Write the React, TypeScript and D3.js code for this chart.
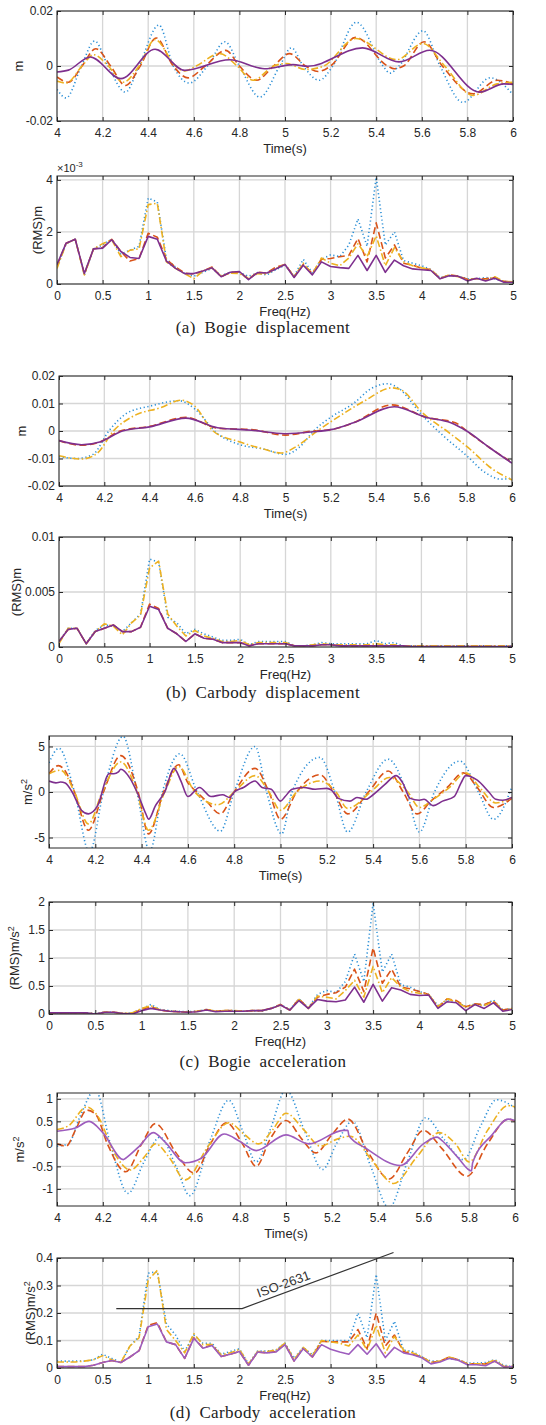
import React, { useEffect, useRef } from 'react';
import * as d3 from 'd3';

// shared axes
const FREQ = [0, 0.1, 0.2, 0.3, 0.4, 0.5, 0.6, 0.7, 0.8, 0.9, 1, 1.1, 1.2, 1.3, 1.4, 1.5, 1.6, 1.7, 1.8, 1.9, 2,
  2.1, 2.2, 2.3, 2.4, 2.5, 2.6, 2.7, 2.8, 2.9, 3, 3.1, 3.2, 3.3, 3.4, 3.5, 3.6, 3.7, 3.8, 3.9, 4,
  4.1, 4.2, 4.3, 4.4, 4.5, 4.6, 4.7, 4.8, 4.9, 5];
const TIME_TICKS = [4, 4.2, 4.4, 4.6, 4.8, 5, 5.2, 5.4, 5.6, 5.8, 6];
const FREQ_TICKS = [0, 0.5, 1, 1.5, 2, 2.5, 3, 3.5, 4, 4.5, 5];

// (a) bogie displacement, time [t, m]
const bogieDispBlue = [[4, -0.0085], [4.04, -0.0116], [4.107, 0], [4.165, 0.0091], [4.224, 0], [4.3, -0.0095], [4.36, 0], [4.447, 0.0149], [4.51, 0], [4.58, -0.0062], [4.66, 0], [4.737, 0.0088], [4.8, 0], [4.89, -0.0113], [4.977, 0], [5.028, 0.0066], [5.08, 0], [5.15, -0.0052], [5.21, 0], [5.313, 0.0159], [5.43, 0], [5.46, -0.0026], [5.5, 0], [5.605, 0.0128], [5.68, 0], [5.78, -0.0132], [5.9, -0.0043], [6, -0.0104]];
const bogieDispOrange = [[4, -0.004], [4.05, -0.0059], [4.11, 0], [4.17, 0.0063], [4.235, 0], [4.3, -0.0071], [4.365, 0], [4.435, 0.0102], [4.51, 0], [4.575, -0.0043], [4.65, 0], [4.74, 0.0057], [4.8, 0], [4.875, -0.0052], [4.95, 0], [5.02, 0.0045], [5.09, 0], [5.145, -0.002], [5.2, 0], [5.31, 0.0104], [5.45, 0], [5.48, -0.001], [5.52, 0], [5.61, 0.0088], [5.69, 0], [5.825, -0.0101], [5.93, -0.0052], [6, -0.0065]];
const bogieDispYellow = [[4, -0.0055], [4.04, -0.0062], [4.11, 0], [4.16, 0.0041], [4.225, 0], [4.29, -0.0059], [4.36, 0], [4.43, 0.0096], [4.52, 0], [4.56, -0.0018], [4.61, 0], [4.715, 0.0045], [4.79, 0], [4.86, -0.0052], [4.95, 0], [5.005, 0.0009], [5.09, -0.0013], [5.17, 0], [5.31, 0.01], [5.49, 0.0023], [5.605, 0.0082], [5.7, 0], [5.825, -0.0107], [5.93, -0.0065], [6, -0.0059]];
const bogieDispPurple = [[4, -0.0022], [4.05, -0.0015], [4.146, 0.0033], [4.28, -0.0046], [4.43, 0.0061], [4.56, -0.0016], [4.757, 0.0023], [4.91, -0.001], [5.035, 0.0005], [5.1, -0.0001], [5.34, 0.0066], [5.5, 0.0015], [5.635, 0.0057], [5.854, -0.0095], [5.96, -0.0065], [6, -0.0067]];

// (a) bogie displacement RMS (x1e-3 m)
const bogieRmsBlue = [0.65, 1.55, 1.72, 0.35, 1.35, 1.5, 1.72, 1.15, 1.3, 1.45, 3.3, 3.15, 0.95, 0.65, 0.4, 0.3, 0.45, 0.6, 0.32, 0.45, 0.45, 0.3, 0.42, 0.35, 0.55, 0.72, 0.3, 0.95, 0.42, 0.95, 1.12, 1.05, 1.5, 2.5, 1.45, 4.1, 1.5, 2.0, 0.9, 0.8, 0.7, 0.55, 0.25, 0.32, 0.3, 0.2, 0.2, 0.25, 0.2, 0.1, 0.08];
const bogieRmsOrange = [0.7, 1.57, 1.72, 0.38, 1.35, 1.4, 1.72, 1.25, 0.88, 0.98, 1.95, 1.8, 0.95, 0.65, 0.42, 0.38, 0.5, 0.65, 0.28, 0.45, 0.45, 0.2, 0.45, 0.42, 0.65, 0.75, 0.28, 0.75, 0.4, 0.95, 0.98, 1.05, 1.1, 1.75, 0.85, 2.35, 1.0, 1.5, 0.8, 0.72, 0.6, 0.55, 0.22, 0.35, 0.3, 0.18, 0.2, 0.2, 0.25, 0.1, 0.08];
const bogieRmsYellow = [0.6, 1.55, 1.72, 0.35, 1.35, 1.55, 1.7, 1.05, 1.3, 1.35, 3.05, 3.1, 0.85, 0.6, 0.4, 0.2, 0.5, 0.62, 0.3, 0.42, 0.4, 0.2, 0.4, 0.38, 0.6, 0.75, 0.28, 0.8, 0.38, 1.0, 0.8, 0.7, 1.0, 1.55, 1.05, 1.85, 0.7, 1.4, 0.85, 0.7, 0.62, 0.55, 0.2, 0.35, 0.28, 0.15, 0.22, 0.15, 0.28, 0.1, 0.08];
const bogieRmsPurple = [0.75, 1.57, 1.72, 0.4, 1.35, 1.38, 1.7, 1.25, 1.02, 0.98, 1.83, 1.72, 0.88, 0.6, 0.4, 0.4, 0.5, 0.62, 0.28, 0.45, 0.48, 0.17, 0.44, 0.42, 0.58, 0.75, 0.25, 0.72, 0.35, 0.85, 0.67, 0.63, 0.6, 1.1, 0.52, 1.1, 0.45, 0.92, 0.7, 0.58, 0.55, 0.52, 0.2, 0.32, 0.3, 0.12, 0.22, 0.12, 0.22, 0.07, 0.07];

// (b) carbody displacement, time [t, m]
const carDispBlue = [[4, -0.0093], [4.08, -0.01], [4.15, -0.0085], [4.22, 0], [4.3, 0.0065], [4.4, 0.009], [4.53, 0.011], [4.6, 0.008], [4.7, -0.001], [4.8, -0.005], [4.9, -0.0065], [5, -0.0085], [5.06, -0.006], [5.13, 0.0005], [5.2, 0.005], [5.3, 0.01], [5.38, 0.0155], [5.45, 0.0172], [5.5, 0.0155], [5.6, 0.006], [5.7, -0.002], [5.8, -0.009], [5.88, -0.015], [5.95, -0.0175], [6, -0.0172]];
const carDispOrange = [[4, -0.0035], [4.1, -0.0052], [4.18, -0.004], [4.27, 0], [4.4, 0.0017], [4.56, 0.005], [4.7, 0.001], [4.85, 0.0005], [5, -0.0015], [5.12, 0], [5.2, 0.0005], [5.3, 0.003], [5.47, 0.0095], [5.62, 0.005], [5.75, 0.003], [5.8, 0], [5.9, -0.006], [6, -0.0115]];
const carDispYellow = [[4, -0.009], [4.1, -0.0102], [4.17, -0.008], [4.24, 0], [4.33, 0.0055], [4.45, 0.0085], [4.54, 0.0112], [4.6, 0.009], [4.68, 0], [4.8, -0.004], [4.9, -0.0065], [4.98, -0.008], [5.05, -0.0055], [5.14, 0], [5.24, 0.0055], [5.35, 0.011], [5.47, 0.0157], [5.52, 0.0145], [5.6, 0.007], [5.72, -0.0005], [5.82, -0.007], [5.9, -0.013], [6, -0.0178]];
const carDispPurple = [[4, -0.0035], [4.1, -0.005], [4.18, -0.004], [4.28, 0], [4.4, 0.0015], [4.56, 0.0047], [4.7, 0.0012], [4.85, 0.0003], [5, -0.001], [5.12, -0.0003], [5.2, 0.0005], [5.3, 0.003], [5.48, 0.0088], [5.62, 0.005], [5.73, 0.003], [5.8, 0], [5.9, -0.006], [6, -0.0117]];

// (b) carbody displacement RMS (m)
const carRmsBlue = [0.0005, 0.0017, 0.0017, 0.0003, 0.0015, 0.002, 0.0019, 0.0014, 0.0022, 0.003, 0.008, 0.0077, 0.0027, 0.0022, 0.0012, 0.0016, 0.0012, 0.0009, 0.0006, 0.0006, 0.0007, 0.0002, 0.0005, 0.0005, 0.0005, 0.0005, 0.0001, 0.0001, 0.0002, 0.0004, 0.0003, 0.0003, 0.0003, 0.0003, 0.0003, 0.0006, 0.0003, 0.0004, 0.0001, 0.0001, 0.0001, 0.0001, 0.0001, 0.0001, 0.0001, 0.0001, 0.0001, 0.0001, 0.0001, 0.0001, 0.0001];
const carRmsOrange = [0.0005, 0.0016, 0.0017, 0.0003, 0.0014, 0.0017, 0.002, 0.0014, 0.0014, 0.0018, 0.0039, 0.0035, 0.0017, 0.0012, 0.0005, 0.0012, 0.0008, 0.0007, 0.0004, 0.0004, 0.0004, 0.0001, 0.0003, 0.0003, 0.0003, 0.0003, 0.0001, 0.0001, 0.0001, 0.0002, 0.0002, 0.0001, 0.0001, 0.0001, 0.0001, 0.0001, 0.0001, 0.0001, 0.0001, 0.00005, 0.00005, 0.00005, 0.00005, 0.00005, 0.00005, 0.00005, 0.00005, 0.00005, 0.00005, 0.00005, 0.00005];
const carRmsYellow = [0.0003, 0.0017, 0.0017, 0.0003, 0.0014, 0.0021, 0.0019, 0.0011, 0.0022, 0.0029, 0.0072, 0.0078, 0.003, 0.0019, 0.001, 0.0015, 0.001, 0.0008, 0.0005, 0.0005, 0.0006, 0.0002, 0.0004, 0.0004, 0.0004, 0.0004, 0.0001, 0.0001, 0.0002, 0.0003, 0.0002, 0.0002, 0.0002, 0.0002, 0.0002, 0.0003, 0.0002, 0.0002, 0.0001, 0.0001, 0.0001, 0.0001, 0.0001, 0.0001, 0.0001, 0.0001, 0.0001, 0.0001, 0.0001, 0.0001, 0.0001];
const carRmsPurple = [0.0005, 0.0016, 0.0017, 0.0003, 0.0014, 0.0017, 0.002, 0.0014, 0.0014, 0.0018, 0.0037, 0.0034, 0.0017, 0.0012, 0.0005, 0.0012, 0.0008, 0.0007, 0.0004, 0.0004, 0.0004, 0.0001, 0.0003, 0.0003, 0.0003, 0.0003, 0.0001, 0.0001, 0.0001, 0.0002, 0.0002, 0.0001, 0.0001, 0.0001, 0.0001, 0.0001, 0.0001, 0.0001, 0.0001, 0.00005, 0.00005, 0.00005, 0.00005, 0.00005, 0.00005, 0.00005, 0.00005, 0.00005, 0.00005, 0.00005, 0.00005];

// (c) bogie acceleration, time [t, m/s2]
const bogieAccBlue = [[4, 3.2], [4.043, 4.8], [4.11, 0], [4.175, -6.6], [4.235, 0], [4.32, 6.1], [4.38, 0], [4.435, -6.5], [4.49, 0], [4.565, 4.2], [4.64, 0], [4.74, -4.3], [4.8, 0], [4.89, 5.0], [4.94, 0], [5.005, -4.6], [5.05, 0], [5.17, 3.8], [5.235, 0], [5.29, -4.4], [5.37, 0], [5.465, 3.6], [5.545, 0], [5.6, -4.4], [5.665, 0], [5.775, 3.4], [5.855, 0], [5.92, -3.0], [6, 0.6]];
const bogieAccOrange = [[4, 2.0], [4.04, 2.9], [4.07, 2.3], [4.11, 0], [4.17, -4.2], [4.235, 0], [4.31, 4.0], [4.385, 0], [4.43, -4.6], [4.495, 0], [4.56, 3.0], [4.6, 1.0], [4.63, 0.2], [4.68, -1.0], [4.74, -2.4], [4.8, 0], [4.89, 2.6], [4.95, 0], [5, -3.0], [5.07, 0], [5.17, 1.9], [5.23, 0], [5.29, -2.4], [5.38, 0], [5.465, 2.3], [5.53, 0], [5.59, -2.4], [5.65, -1.0], [5.72, 0.5], [5.79, 2.1], [5.85, 0.5], [5.92, -1.7], [6, -0.7]];
const bogieAccYellow = [[4, 2.0], [4.05, 2.4], [4.11, 0], [4.17, -3.5], [4.23, 0], [4.31, 3.3], [4.38, 0], [4.43, -4.2], [4.5, 0], [4.56, 2.8], [4.63, 0], [4.73, -1.4], [4.8, 0], [4.89, 1.8], [4.95, 0], [5, -2.0], [5.07, 0], [5.17, 1.2], [5.24, 0], [5.29, -1.8], [5.39, 0], [5.47, 1.6], [5.55, 0], [5.6, -1.7], [5.66, -0.8], [5.73, 0.5], [5.8, 2.1], [5.86, 0.5], [5.93, -1.2], [6, -0.6]];
const bogieAccPurple = [[4, 1.2], [4.03, 1.0], [4.05, 1.1], [4.07, 1.0], [4.1, 0], [4.14, -2.0], [4.17, -2.4], [4.21, -1.5], [4.26, 2.0], [4.28, 2.0], [4.3, 2.2], [4.31, 2.5], [4.35, 1.5], [4.38, 0], [4.42, -2.5], [4.43, -3.0], [4.46, -1.5], [4.5, 0], [4.54, 2.6], [4.57, 1.2], [4.6, -0.5], [4.65, 0.5], [4.7, -0.5], [4.75, -0.3], [4.78, -0.6], [4.8, 0], [4.84, 0.5], [4.89, 1.2], [4.92, 0.5], [4.96, 0.3], [5, -1.0], [5.02, -0.5], [5.05, 0.3], [5.1, 0.5], [5.15, 0.3], [5.2, 0.4], [5.22, 0.2], [5.25, -0.7], [5.3, -1.0], [5.33, -0.6], [5.37, -0.8], [5.4, -0.3], [5.45, 0.8], [5.5, 1.8], [5.53, 0.9], [5.56, -0.7], [5.6, -0.9], [5.62, -0.8], [5.66, -1.5], [5.7, -1.0], [5.75, -0.5], [5.78, 1.0], [5.8, 1.8], [5.85, 1.3], [5.9, 0], [5.93, -0.8], [5.96, -0.9], [6, -0.6]];

// (c) bogie acceleration RMS (m/s2)
const bogieAccRmsBlue = [0.02, 0.02, 0.02, 0.02, 0.02, 0.01, 0.03, 0.03, 0.01, 0.02, 0.09, 0.17, 0.08, 0.06, 0.05, 0.04, 0.05, 0.08, 0.05, 0.06, 0.06, 0.05, 0.05, 0.05, 0.1, 0.17, 0.08, 0.27, 0.11, 0.35, 0.42, 0.38, 0.58, 1.07, 0.58, 1.98, 0.75, 1.07, 0.52, 0.48, 0.4, 0.35, 0.15, 0.25, 0.22, 0.13, 0.18, 0.16, 0.25, 0.07, 0.1];
const bogieAccRmsOrange = [0.02, 0.02, 0.02, 0.02, 0.02, 0.0, 0.03, 0.03, 0.01, 0.01, 0.08, 0.13, 0.07, 0.05, 0.04, 0.03, 0.05, 0.08, 0.05, 0.06, 0.06, 0.05, 0.06, 0.06, 0.1, 0.17, 0.07, 0.27, 0.1, 0.3, 0.35, 0.38, 0.48, 0.8, 0.4, 1.18, 0.55, 0.8, 0.48, 0.45, 0.4, 0.35, 0.12, 0.27, 0.24, 0.13, 0.18, 0.17, 0.23, 0.07, 0.1];
const bogieAccRmsYellow = [0.02, 0.02, 0.02, 0.02, 0.02, 0.0, 0.03, 0.03, 0.01, 0.02, 0.1, 0.15, 0.07, 0.05, 0.04, 0.03, 0.05, 0.08, 0.05, 0.06, 0.06, 0.05, 0.06, 0.06, 0.1, 0.16, 0.07, 0.26, 0.1, 0.32, 0.3, 0.27, 0.42, 0.6, 0.3, 0.85, 0.38, 0.65, 0.48, 0.4, 0.37, 0.35, 0.13, 0.27, 0.22, 0.12, 0.17, 0.15, 0.22, 0.06, 0.09];
const bogieAccRmsPurple = [0.02, 0.02, 0.02, 0.02, 0.02, 0.0, 0.03, 0.03, 0.01, 0.0, 0.06, 0.1, 0.07, 0.05, 0.04, 0.03, 0.04, 0.07, 0.04, 0.05, 0.05, 0.05, 0.06, 0.06, 0.1, 0.16, 0.07, 0.24, 0.1, 0.26, 0.23, 0.22, 0.25, 0.48, 0.21, 0.53, 0.23, 0.47, 0.43, 0.35, 0.33, 0.34, 0.1, 0.22, 0.2, 0.06, 0.17, 0.1, 0.2, 0.05, 0.08];

// (d) carbody acceleration, time [t, m/s2]
const carAccBlue = [[4, -0.05], [4.05, 0], [4.1, 0.6], [4.167, 1.2], [4.233, 0], [4.31, -1.1], [4.38, -0.4], [4.45, 0.15], [4.52, -0.5], [4.58, -1.15], [4.67, 0.1], [4.75, 0.97], [4.81, 0.3], [4.87, -0.4], [4.93, 0.3], [5, 1.2], [5.08, 0.3], [5.16, -0.57], [5.22, 0], [5.29, 0.5], [5.37, -0.5], [5.45, -1.42], [5.53, -0.4], [5.61, 0.58], [5.69, 0.1], [5.775, -0.35], [5.85, 0.4], [5.92, 0.98], [6, 0.8]];
const carAccOrange = [[4, 0], [4.04, -0.05], [4.08, 0.3], [4.13, 0.75], [4.17, 0.65], [4.22, 0], [4.3, -0.62], [4.37, 0], [4.43, 0.45], [4.52, -0.2], [4.6, -0.65], [4.67, 0], [4.74, 0.47], [4.81, 0], [4.87, -0.5], [4.93, 0.1], [5, 0.52], [5.07, 0.1], [5.13, -0.2], [5.2, 0.2], [5.27, 0.55], [5.36, -0.2], [5.45, -0.78], [5.53, -0.2], [5.6, 0.3], [5.68, -0.1], [5.79, -0.72], [5.88, 0], [5.97, 0.55], [6, 0.5]];
const carAccYellow = [[4, 0.32], [4.05, 0.4], [4.13, 0.82], [4.18, 0.6], [4.25, -0.2], [4.32, -0.58], [4.38, -0.3], [4.43, 0], [4.49, -0.3], [4.56, -0.8], [4.66, -0.05], [4.75, 0.47], [4.82, 0.2], [4.88, 0], [4.94, 0.3], [5, 0.68], [5.08, 0.3], [5.15, -0.05], [5.22, 0.1], [5.28, 0.17], [5.38, -0.4], [5.47, -0.88], [5.57, -0.3], [5.67, 0.25], [5.74, 0], [5.8, -0.4], [5.88, 0.3], [5.97, 0.85], [6, 0.82]];
const carAccPurple = [[4, 0.28], [4.08, 0.35], [4.14, 0.5], [4.2, 0.25], [4.29, -0.35], [4.3, -0.32], [4.31, -0.28], [4.36, -0.05], [4.42, 0.25], [4.47, 0.05], [4.56, -0.42], [4.63, -0.32], [4.73, 0.22], [4.8, 0.05], [4.87, -0.15], [5, 0.2], [5.1, 0], [5.25, 0.3], [5.27, 0.3], [5.275, 0.18], [5.35, -0.1], [5.5, -0.48], [5.6, 0], [5.66, 0.15], [5.68, 0.08], [5.75, -0.3], [5.81, -0.6], [5.815, -0.42], [5.9, 0.2], [5.97, 0.55], [6, 0.52]];

// (d) carbody acceleration RMS (m/s2)
const carAccRmsBlue = [0.025, 0.025, 0.025, 0.025, 0.03, 0.05, 0.035, 0.02, 0.08, 0.115, 0.345, 0.35, 0.16, 0.12, 0.06, 0.12, 0.09, 0.09, 0.05, 0.06, 0.07, 0.015, 0.062, 0.062, 0.065, 0.09, 0.035, 0.075, 0.048, 0.1, 0.1, 0.1, 0.1, 0.2, 0.11, 0.34, 0.1, 0.17, 0.065, 0.06, 0.04, 0.025, 0.025, 0.035, 0.03, 0.018, 0.018, 0.02, 0.03, 0.01, 0.005];
const carAccRmsOrange = [0.005, 0.005, 0.005, 0.005, 0.01, 0.02, 0.027, 0.02, 0.04, 0.063, 0.155, 0.165, 0.095, 0.085, 0.035, 0.11, 0.072, 0.085, 0.042, 0.05, 0.06, 0.01, 0.058, 0.055, 0.06, 0.087, 0.025, 0.072, 0.04, 0.097, 0.095, 0.095, 0.095, 0.14, 0.07, 0.2, 0.08, 0.12, 0.06, 0.05, 0.04, 0.02, 0.025, 0.04, 0.03, 0.015, 0.015, 0.015, 0.025, 0.005, 0.005];
const carAccRmsYellow = [0.022, 0.022, 0.022, 0.025, 0.03, 0.045, 0.03, 0.02, 0.08, 0.11, 0.32, 0.355, 0.14, 0.1, 0.055, 0.125, 0.085, 0.085, 0.048, 0.055, 0.068, 0.015, 0.06, 0.06, 0.065, 0.09, 0.03, 0.075, 0.045, 0.1, 0.095, 0.09, 0.08, 0.12, 0.065, 0.155, 0.055, 0.115, 0.065, 0.055, 0.04, 0.02, 0.025, 0.04, 0.03, 0.015, 0.015, 0.015, 0.03, 0.005, 0.005];
const carAccRmsPurple = [0.005, 0.005, 0.005, 0.005, 0.01, 0.02, 0.027, 0.02, 0.04, 0.063, 0.15, 0.16, 0.095, 0.085, 0.035, 0.108, 0.072, 0.082, 0.042, 0.05, 0.06, 0.01, 0.058, 0.055, 0.058, 0.085, 0.025, 0.07, 0.04, 0.085, 0.068, 0.058, 0.05, 0.085, 0.05, 0.088, 0.038, 0.075, 0.055, 0.048, 0.037, 0.015, 0.022, 0.035, 0.028, 0.012, 0.012, 0.008, 0.025, 0.003, 0.005];

// ISO-2631 limit line (Hz, m/s2)
const isoLimit = [[0.65, 0.216], [2.03, 0.216], [3.69, 0.42]];

const BLUE = '#2b8fd6';
const ORANGE = '#d95319';
const YELLOW = '#edb120';
const PURPLE = '#7e2f8e';

const styles = [
  { color: BLUE, dash: '1.2,2.6' },
  { color: ORANGE, dash: '7,3.5' },
  { color: YELLOW, dash: '7,2.5,1.5,2.5' },
  { color: PURPLE, dash: null },
];

const panels = [
  { top: 11, bottom: 121, left: 57, right: 513, yDomain: [-0.02, 0.02], yTicks: [-0.02, 0, 0.02], kind: 'time', ylabel: 'm', ylx: 18,
    series: [bogieDispBlue, bogieDispOrange, bogieDispYellow, bogieDispPurple] },
  { top: 176, bottom: 284, left: 57, right: 513, yDomain: [0, 4.15], yTicks: [0, 2, 4], kind: 'freq', ylabel: '(RMS)m', ylx: 37, exp: true,
    series: [bogieRmsBlue, bogieRmsOrange, bogieRmsYellow, bogieRmsPurple], caption: '(a)  Bogie  displacement', capY: 333 },
  { top: 376, bottom: 486, left: 59, right: 512, yDomain: [-0.02, 0.02], yTicks: [-0.02, -0.01, 0, 0.01, 0.02], kind: 'time', ylabel: 'm', ylx: 21,
    series: [carDispBlue, carDispOrange, carDispYellow, carDispPurple] },
  { top: 537, bottom: 647, left: 59, right: 512, yDomain: [0, 0.01], yTicks: [0, 0.005, 0.01], kind: 'freq', ylabel: '(RMS)m', ylx: 16,
    series: [carRmsBlue, carRmsOrange, carRmsYellow, carRmsPurple], caption: '(b)  Carbody  displacement', capY: 698 },
  { top: 736, bottom: 848, left: 49, right: 512, yDomain: [-6.15, 6.15], yTicks: [-5, 0, 5], kind: 'time', ylabel: 'm/s', sup: true, ylx: 27,
    series: [bogieAccBlue, bogieAccOrange, bogieAccYellow, bogieAccPurple] },
  { top: 902, bottom: 1014, left: 49, right: 512, yDomain: [0, 2], yTicks: [0, 0.5, 1, 1.5, 2], kind: 'freq', ylabel: '(RMS)m/s', sup: true, ylx: 14,
    series: [bogieAccRmsBlue, bogieAccRmsOrange, bogieAccRmsYellow, bogieAccRmsPurple], caption: '(c)  Bogie  acceleration', capY: 1067 },
  { top: 1093, bottom: 1206, left: 57, right: 515, yDomain: [-1.38, 1.13], yTicks: [-1, -0.5, 0, 0.5, 1], kind: 'time', ylabel: 'm/s', sup: true, ylx: 19, light: true,
    series: [carAccBlue, carAccOrange, carAccYellow, carAccPurple] },
  { top: 1258, bottom: 1368, left: 57, right: 513, yDomain: [0, 0.4], yTicks: [0, 0.1, 0.2, 0.3, 0.4], kind: 'freq', ylabel: '(RMS)m/s', sup: true, ylx: 30, light: true, iso: true,
    series: [carAccRmsBlue, carAccRmsOrange, carAccRmsYellow, carAccRmsPurple], caption: '(d)  Carbody  acceleration', capY: 1418 },
];

const FONT = '"Liberation Sans", Arial, Helvetica, sans-serif';

function drawPanel(svg, p, i) {
  const isTime = p.kind === 'time';
  const xTicks = isTime ? TIME_TICKS : FREQ_TICKS;
  const x = d3.scaleLinear().domain(isTime ? [4, 6] : [0, 5]).range([p.left, p.right]);
  const y = d3.scaleLinear().domain(p.yDomain).range([p.bottom, p.top]);
  const g = svg.append('g');

  // grid
  g.append('g').selectAll('line').data(xTicks).join('line')
    .attr('x1', d => x(d)).attr('x2', d => x(d)).attr('y1', p.top).attr('y2', p.bottom)
    .attr('stroke', '#d6d6d6').attr('stroke-width', 1.3);
  g.append('g').selectAll('line').data(p.yTicks).join('line')
    .attr('x1', p.left).attr('x2', p.right).attr('y1', d => y(d)).attr('y2', d => y(d))
    .attr('stroke', '#d6d6d6').attr('stroke-width', 1.3);

  // clip
  const clipId = 'clip' + i;
  g.append('clipPath').attr('id', clipId).append('rect')
    .attr('x', p.left).attr('y', p.top).attr('width', p.right - p.left).attr('height', p.bottom - p.top);

  const lines = g.append('g').attr('clip-path', `url(#${clipId})`);
  p.series.forEach((s, k) => {
    const st = styles[k];
    let color = st.color;
    if (p.light && k === 3) color = '#9d5cbd';
    const pts = isTime ? s : s.map((v, j) => [FREQ[j], v]);
    const line = d3.line().x(d => x(d[0])).y(d => y(d[1]))
      .curve(isTime ? d3.curveMonotoneX : d3.curveLinear);
    lines.append('path').attr('d', line(pts)).attr('fill', 'none')
      .attr('stroke', color).attr('stroke-width', 1.6)
      .attr('stroke-dasharray', st.dash)
      .attr('stroke-linejoin', 'round');
  });

  // axes
  const fmt = d => String(d);
  const bottom = g.append('g').attr('transform', `translate(0,${p.bottom})`)
    .call(d3.axisBottom(x).tickValues(xTicks).tickSize(-4).tickPadding(7).tickFormat(fmt));
  const left = g.append('g').attr('transform', `translate(${p.left},0)`)
    .call(d3.axisLeft(y).tickValues(p.yTicks).tickSize(-4).tickPadding(4).tickFormat(fmt));
  g.append('g').attr('transform', `translate(0,${p.top})`)
    .call(d3.axisTop(x).tickValues(xTicks).tickSize(-4).tickFormat(() => ''));
  g.append('g').attr('transform', `translate(${p.right},0)`)
    .call(d3.axisRight(y).tickValues(p.yTicks).tickSize(-4).tickFormat(() => ''));
  g.selectAll('.domain').remove();
  g.selectAll('.tick line').attr('stroke', '#262626');
  [bottom, left].forEach(a => a.selectAll('text').attr('fill', '#262626').style('font-size', '12px').style('font-family', FONT));

  g.append('rect').attr('x', p.left).attr('y', p.top)
    .attr('width', p.right - p.left).attr('height', p.bottom - p.top)
    .attr('fill', 'none').attr('stroke', '#262626').attr('stroke-width', 1);

  // labels
  g.append('text').attr('x', (p.left + p.right) / 2).attr('y', p.bottom + 32)
    .attr('text-anchor', 'middle').attr('fill', '#262626')
    .style('font-size', '13px').style('font-family', FONT)
    .text(isTime ? 'Time(s)' : 'Freq(Hz)');

  const yl = g.append('text')
    .attr('transform', `translate(${p.ylx + 4.5},${(p.top + p.bottom) / 2}) rotate(-90)`)
    .attr('text-anchor', 'middle').attr('fill', '#262626')
    .style('font-size', '13px').style('font-family', FONT);
  yl.append('tspan').text(p.ylabel);
  if (p.sup) yl.append('tspan').attr('dy', -5).style('font-size', '9px').text('2');

  if (p.exp) {
    const e = g.append('text').attr('x', p.left).attr('y', p.top - 4).attr('fill', '#262626')
      .style('font-size', '11px').style('font-family', FONT);
    e.append('tspan').text('\u00d710');
    e.append('tspan').attr('dy', -5).style('font-size', '8px').text('-3');
  }

  if (p.iso) {
    g.append('path').attr('d', d3.line().x(d => x(d[0])).y(d => y(d[1]))(isoLimit))
      .attr('fill', 'none').attr('stroke', '#333').attr('stroke-width', 1.2);
    g.append('text')
      .attr('transform', `translate(${x(2.5)},${y(0.29)}) rotate(-20)`)
      .attr('text-anchor', 'middle').attr('fill', '#333')
      .style('font-size', '13px').style('font-family', FONT)
      .text('ISO-2631');
  }

  if (p.caption) {
    svg.append('text').attr('x', 263).attr('y', p.capY)
      .attr('text-anchor', 'middle').attr('fill', '#222')
      .style('font-size', '17px').style('font-family', '"Liberation Serif", "Times New Roman", serif')
      .style('word-spacing', '4px').style('letter-spacing', '0.4px')
      .text(p.caption);
  }
}

export default function App() {
  const ref = useRef(null);

  useEffect(() => {
    const svg = d3.select(ref.current);
    svg.selectAll('*').remove();
    panels.forEach((p, i) => drawPanel(svg, p, i));
  }, []);

  return (
    <svg ref={ref} width={546} height={1425}
      style={{ position: 'absolute', left: 0, top: 0, background: '#fff' }} />
  );
}
